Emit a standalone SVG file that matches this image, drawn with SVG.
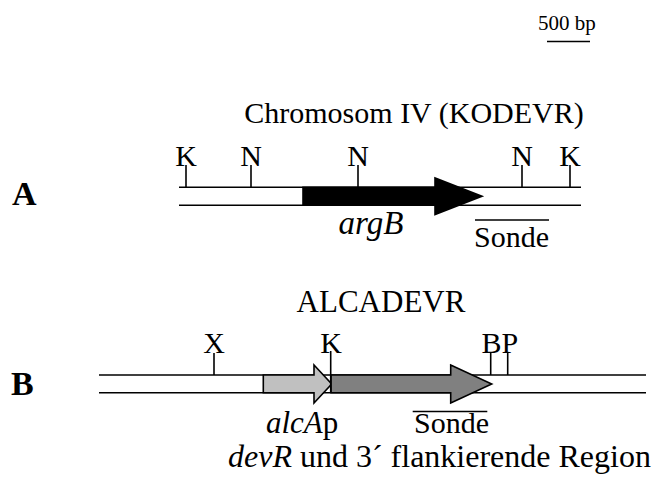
<svg xmlns="http://www.w3.org/2000/svg" width="652" height="479" viewBox="0 0 652 479">
<style>
text{font-family:"Liberation Serif","Times New Roman",serif;font-size:30px;fill:#000}
.it{font-style:italic}
.bold{font-weight:bold;font-size:34px}
.small{font-size:21px}
.ln{stroke:#000;stroke-width:1.6;fill:none}
.mid{text-anchor:middle}
</style>
<rect width="652" height="479" fill="#fff"/>
<g id="scale">
<text class="small" x="538" y="30">500 bp</text>
<line class="ln" x1="547" y1="41.5" x2="590" y2="41.5"/>
</g>
<g id="sectionA">
<text class="bold" x="12" y="205">A</text>
<text class="mid" x="414" y="123">Chromosom IV (KODEVR)</text>
<g id="chrA">
<line class="ln" x1="179" y1="187.3" x2="581" y2="187.3"/>
<line class="ln" x1="179" y1="205.3" x2="581" y2="205.3"/>
</g>
<g id="argB">
<polygon points="303,187.3 435,187.3 435,178 482,196.3 435,214.5 435,205.3 303,205.3" fill="#000" stroke="#000" stroke-width="1.6"/>
<text class="it mid" x="371" y="234" style="font-size:33px">argB</text>
</g>
<g id="sitesA">
<line class="ln" x1="186" y1="165" x2="186" y2="187.3"/>
<line class="ln" x1="251" y1="165" x2="251" y2="187.3"/>
<line class="ln" x1="358" y1="165" x2="358" y2="187.3"/>
<line class="ln" x1="522" y1="165" x2="522" y2="187.3"/>
<line class="ln" x1="570" y1="165" x2="570" y2="187.3"/>
<text class="mid" x="186" y="166">K</text>
<text class="mid" x="251" y="166">N</text>
<text class="mid" x="358" y="166">N</text>
<text class="mid" x="522" y="166">N</text>
<text class="mid" x="570" y="166">K</text>
</g>
<g id="sondeA">
<line class="ln" x1="475" y1="220" x2="549" y2="220"/>
<text x="474" y="247">Sonde</text>
</g>
</g>
<g id="sectionB">
<text class="bold" x="11" y="395">B</text>
<text class="mid" x="381" y="311.5" style="font-size:31px">ALCADEVR</text>
<g id="chrB">
<line class="ln" x1="99" y1="375" x2="646" y2="375"/>
<line class="ln" x1="99" y1="392.7" x2="646" y2="392.7"/>
</g>
<g id="alcAp">
<polygon points="263.3,375 314,375 314,365 331.7,384 314,403 314,392.7 263.3,392.7" fill="#c0c0c0" stroke="#000" stroke-width="1.6"/>
<text x="266" y="433" style="font-size:31px"><tspan class="it">alcA</tspan>p</text>
</g>
<g id="devR">
<polygon points="331,375 450.7,375 450.7,365 491.7,384 450.7,403 450.7,392.7 331,392.7" fill="#808080" stroke="#000" stroke-width="1.6"/>
<text x="228" y="467" style="font-size:32px"><tspan class="it">devR</tspan> und 3´ flankierende Region</text>
</g>
<g id="sitesB">
<line class="ln" x1="214" y1="353" x2="214" y2="375"/>
<line class="ln" x1="330.7" y1="351" x2="330.7" y2="392.7"/>
<line class="ln" x1="490.7" y1="353" x2="490.7" y2="375"/>
<line class="ln" x1="507.7" y1="353" x2="507.7" y2="375"/>
<text class="mid" x="214" y="352.5">X</text>
<text class="mid" x="331" y="352.5">K</text>
<text x="481.5" y="352.5">BP</text>
</g>
<g id="sondeB">
<line class="ln" x1="412.7" y1="411.5" x2="487.3" y2="411.5"/>
<text x="414" y="433">Sonde</text>
</g>
</g>
</svg>
